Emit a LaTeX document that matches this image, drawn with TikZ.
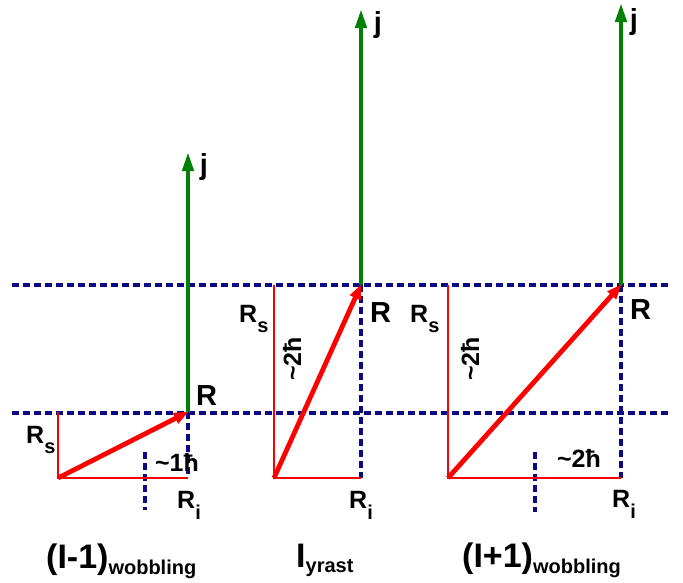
\documentclass[tikz,border=0pt]{standalone}
\usepackage{fontspec}
\setmainfont{Liberation Sans}
\usetikzlibrary{arrows.meta}
\definecolor{dnavy}{RGB}{10,10,130}
\definecolor{dgreen}{RGB}{0,128,0}
\definecolor{dred}{RGB}{255,0,0}
\newcommand{\fs}[1]{\fontsize{#1}{#1}\selectfont}
\newcommand{\lowsub}[2]{\raisebox{-#1pt}{\fs{20}#2}}
\begin{document}
\begin{tikzpicture}[x=1pt,y=-1pt,
  grid/.style={dnavy,line width=3.2pt,dash pattern=on 6.5pt off 4.5pt},
  comp/.style={dred,line width=2.6pt},
  resv/.style={dred,line width=4.8pt,-{Triangle[length=15pt,width=11pt]},shorten >=-1pt},
  jvec/.style={dgreen,line width=4.2pt,-{Triangle[length=19pt,width=11pt]}},
  lab/.style={inner sep=0pt,anchor=base west,font=\bfseries\fs{25}},
  big/.style={inner sep=0pt,anchor=base west,font=\bfseries\fs{29}},
  jlab/.style={inner sep=0pt,font=\bfseries\fs{29}},
  hb/.style={inner sep=0pt,font=\bfseries\fs{25}},
  title/.style={inner sep=0pt,anchor=base west,font=\bfseries\fs{34}}]
\useasboundingbox (0,0) rectangle (683,582);
% reference coordinates
\coordinate (O1) at (58,478);  \coordinate (R1) at (188,412);
\coordinate (S1) at (58,412);  \coordinate (I1) at (188,478);
\coordinate (J1) at (188,152);
\coordinate (O2) at (274,478); \coordinate (R2) at (361,285);
\coordinate (S2) at (274,285); \coordinate (I2) at (361,478);
\coordinate (J2) at (361,9);
\coordinate (O3) at (448,478); \coordinate (R3) at (621,285);
\coordinate (S3) at (448,285); \coordinate (I3) at (621,478);
\coordinate (J3) at (621,3);
\coordinate (HL1a) at (12,285);  \coordinate (HL1b) at (668,285);
\coordinate (HL2a) at (12,413);  \coordinate (HL2b) at (668,413);
\coordinate (T1a) at (145,452);  \coordinate (T1b) at (145,510);
\coordinate (T3a) at (535,452);  \coordinate (T3b) at (535,512);
% dashed grid
\draw[grid] (HL1a) -- (HL1b);
\draw[grid] (HL2a) -- (HL2b);
\draw[grid] (R1) -- (I1);
\draw[grid] (R2) -- (I2);
\draw[grid] (R3) -- (I3);
\draw[grid] (T1a) -- (T1b);
\draw[grid] (T3a) -- (T3b);
% components
\draw[comp] (S1) -- (O1) -- (I1);
\draw[comp] (S2) -- (O2) -- (I2);
\draw[comp] (S3) -- (O3) -- (I3);
% j vectors
\draw[jvec] (R1) -- (J1);
\draw[jvec] (R2) -- (J2);
\draw[jvec] (R3) -- (J3);
% R vectors
\draw[resv] (O1) -- (R1);
\draw[resv] (O2) -- (R2);
\draw[resv] (O3) -- (R3);
% labels panel 1
\node[jlab] (j1) at (204,167) {j};
\node[big] (r1) at (196,405) {R};
\node[lab] (rs1) at (26,443) {R\lowsub{10}{s}};
\node[hb] (h1) at (177,462) {\char"007E 1\char"0127};
\node[lab] (ri1) at (177,508) {R\lowsub{11}{i}};
\node[title] (t1) at (46,568) {(I-1)\lowsub{6}{wobbling}};
% labels panel 2
\node[jlab] (j2) at (378,25) {j};
\node[big] (r2) at (370,322) {R};
\node[lab] (rs2) at (239,322) {R\lowsub{10}{s}};
\node[hb,rotate=90] (h2) at (292,359) {\char"007E 2\char"0127};
\node[lab] (ri2) at (349,508) {R\lowsub{11}{i}};
\node[title] (t2) at (296,567) {I\lowsub{5}{yrast}};
% labels panel 3
\node[jlab] (j3) at (634,22) {j};
\node[big] (r3) at (630,319) {R};
\node[lab] (rs3) at (410,322) {R\lowsub{10}{s}};
\node[hb,rotate=90] (h3) at (470,359) {\char"007E 2\char"0127};
\node[hb] (h4) at (579,458) {\char"007E 2\char"0127};
\node[lab] (ri3) at (612,507) {R\lowsub{11}{i}};
\node[title] (t3) at (462,567) {(I+1)\lowsub{6}{wobbling}};
\end{tikzpicture}
\end{document}
